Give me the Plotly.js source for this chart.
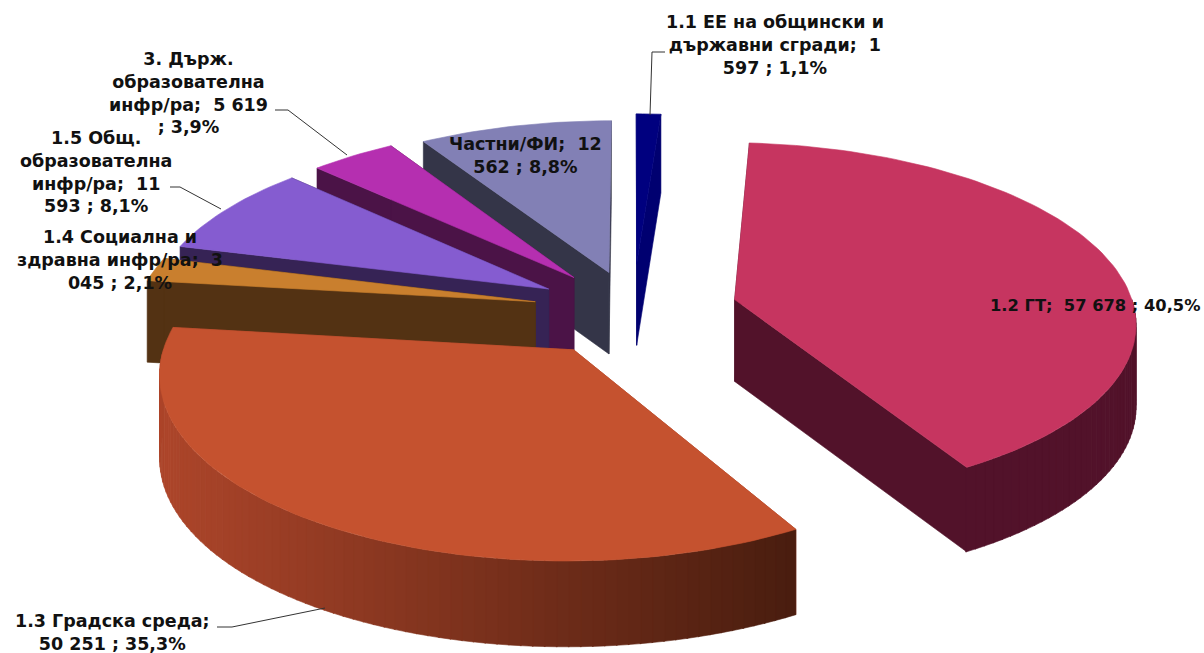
<!DOCTYPE html>
<html><head><meta charset="utf-8">
<script src="https://cdn.plot.ly/plotly-3.0.1.min.js"></script>
<style>html,body{margin:0;padding:0;background:#fff}#c{width:1204px;height:653px}</style>
</head><body><div id="c"></div><script>
const categories = ["1.1 ЕЕ на общински и държавни сгради","1.2 ГТ","1.3 Градска среда","1.4 Социална и здравна инфр/ра","1.5 Общ. образователна инфр/ра","3. Държ. образователна инфр/ра","Частни/ФИ"];
const values = [1597,57678,50251,3045,11593,5619,12562];
const labelTexts = [
 "1.1 ЕЕ на общински и<br>държавни сгради;  1<br>597 ; 1,1%",
 "1.2 ГТ;  57 678 ; 40,5%",
 "1.3 Градска среда;<br>50 251 ; 35,3%",
 "1.4 Социална и<br>здравна инфр/ра;  3<br>045 ; 2,1%",
 "1.5 Общ.<br>образователна<br>инфр/ра;  11<br>593 ; 8,1%",
 "3. Държ.<br>образователна<br>инфр/ра;  5 619<br>; 3,9%",
 "Частни/ФИ;  12<br>562 ; 8,8%"];
const topColors  = ["#00007F","#C63560","#C5522F","#C97F2E","#855CD0","#B52FB0","#8280B5"];
const sideColors = ["#000070","#52122A","#A8432A","#533213","#362355","#4B1347","#343548"];
const pulls = [107,105,105,100,98,96,90];
const labelX = [775,1095,112,120,96,188,525];
const labelY = [45,305,632,260,172,93,155];
const labelSizes = [17.5,16.3,17.5,17.5,17.5,17.5,17.5];
const drawOrder = [0,6,5,4,3,1,2];
const leaders = [[[650,115],[652,52],[665,52]],[[275,110],[288,110],[347,155]],[[170,187],[180,187],[221,209]],[[217,627],[232,627],[325,608]]];

const CX=633, CY=310, R=400, TILT=0.443, PERSP=0.000286, DEPTH=82;
const rad=d=>d*Math.PI/180;
function proj(wx,wz,down){const s=1/(1-PERSP*wz);return [CX+wx*s, CY+TILT*wz*s+(down?DEPTH*Math.pow(s,0.3):0)];}
const total=values.reduce((a,b)=>a+b,0);
let acc=0; const slices=values.map((v,i)=>{const a0=acc/total*360;acc+=v;const a1=acc/total*360;return{i,a0,a1};});
const traces=[];
function poly(pts,color){
  traces.push({type:'scatter',mode:'lines',x:pts.map(p=>p[0]).concat([pts[0][0]]),y:pts.map(p=>p[1]).concat([pts[0][1]]),
    fill:'toself',fillcolor:color,line:{color:color,width:0.6},hoverinfo:'skip',showlegend:false});
}
function mix(c1,c2,t){const h=c=>[1,3,5].map(k=>parseInt(c.substr(k,2),16));const a=h(c1),b=h(c2);
  return 'rgb('+a.map((v,k)=>Math.round(v+(b[k]-v)*t)).join(',')+')';}
for(const idx of drawOrder){
  const {i,a0,a1}=slices[idx];
  const mid=rad((a0+a1)/2);
  const ax=pulls[i]*Math.sin(mid), az=-pulls[i]*Math.cos(mid);
  const pt=(deg)=>[ax+R*Math.sin(rad(deg)), az-R*Math.cos(rad(deg))];
  const edge=(deg,down)=>{const p=pt(deg);return proj(p[0],p[1],down);};
  const side=sideColors[i];
  [a0,a1].forEach(a=>poly([proj(ax,az,false),edge(a,false),edge(a,true),proj(ax,az,true)],side));
  const from=Math.max(a0,90), to=Math.min(a1,270);
  if(to>from){
    const n=Math.max(2,Math.ceil((to-from)/1.5));
    for(let k=0;k<n;k++){
      const d0=from+(to-from)*k/n, d1=from+(to-from)*(k+1)/n+0.15;
      let col=side;
      if(i===2){const x=edge(d0,false)[0];col=mix("#AC452A","#491D0F",Math.min(1,Math.max(0,(x-170)/630)));}
      poly([edge(d0,false),edge(d1,false),edge(d1,true),edge(d0,true)],col);
    }
  }
  const top=[proj(ax,az,false)];
  const n=Math.max(4,Math.ceil((a1-a0)/1.5));
  for(let k=0;k<=n;k++) top.push(edge(a0+(a1-a0)*k/n,false));
  poly(top,topColors[i]);
}
leaders.forEach(l=>traces.push({type:'scatter',mode:'lines',x:l.map(p=>p[0]),y:l.map(p=>p[1]),line:{color:'#333',width:1},hoverinfo:'skip',showlegend:false}));
const annotations=labelTexts.map((t,i)=>({xref:'x',yref:'y',x:labelX[i],y:labelY[i],text:t,showarrow:false,align:'center',xanchor:'center',yanchor:'middle',
  font:{family:'"DejaVu Sans",sans-serif',size:labelSizes[i],color:'#111',weight:700}}));
Plotly.newPlot('c',traces,{width:1204,height:653,margin:{l:0,r:0,t:0,b:0},paper_bgcolor:'#fff',plot_bgcolor:'#fff',showlegend:false,
 xaxis:{range:[0,1204],visible:false,fixedrange:true},yaxis:{range:[653,0],visible:false,fixedrange:true},annotations},{displayModeBar:false,staticPlot:true});
</script></body></html>
